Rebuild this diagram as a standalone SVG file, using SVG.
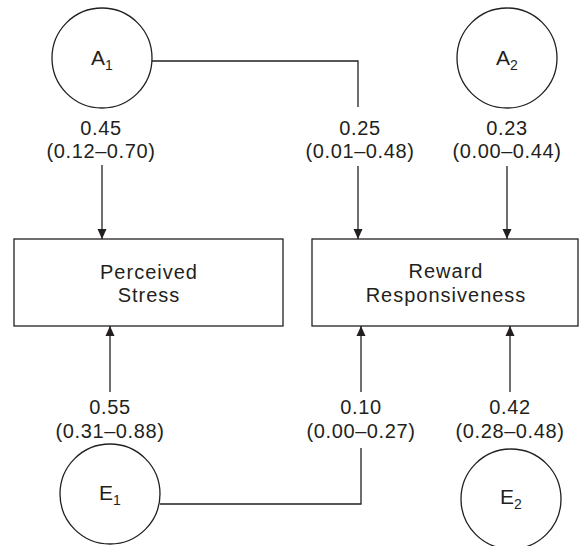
<svg xmlns="http://www.w3.org/2000/svg" width="581" height="546" viewBox="0 0 581 546">
<style>
  .shape{fill:#fff;stroke:#231f20;stroke-width:1.3}
  .line{fill:none;stroke:#231f20;stroke-width:1.3}
  .arrow{fill:none;stroke:#231f20;stroke-width:1.3;marker-end:url(#ah)}
  text{font-family:"Liberation Sans",Arial,sans-serif;fill:#231f20;text-anchor:middle}
  .lbl{font-size:20px;letter-spacing:0.6px}
  .node{font-size:20px;letter-spacing:1px}
  .var{font-size:21px}
  .sub{font-size:14px}
</style>
<defs>
  <marker id="ah" markerWidth="10" markerHeight="10" viewBox="0 0 10 10" refX="10" refY="5" orient="auto" markerUnits="userSpaceOnUse">
    <path d="M0,0.5 L10,5 L0,9.5 Z" fill="#231f20"/>
  </marker>
</defs>
<rect width="581" height="546" fill="#fff"/>
<g id="connectors">
  <path class="line" d="M152,61 H358 V107"/>
  <path class="arrow" d="M102,165 V239"/>
  <path class="arrow" d="M358,166 V239"/>
  <path class="arrow" d="M507,166 V239"/>
  <path class="arrow" d="M110,392 V326"/>
  <path class="arrow" d="M361,392 V326"/>
  <path class="arrow" d="M510,392 V326"/>
  <path class="line" d="M160,504 H361 V448"/>
  <text class="lbl" x="101" y="135">0.45</text>
  <text class="lbl" x="101" y="158">(0.12–0.70)</text>
  <text class="lbl" x="360" y="135">0.25</text>
  <text class="lbl" x="360" y="158">(0.01–0.48)</text>
  <text class="lbl" x="507" y="135">0.23</text>
  <text class="lbl" x="507" y="158">(0.00–0.44)</text>
  <text class="lbl" x="110" y="414">0.55</text>
  <text class="lbl" x="110" y="438">(0.31–0.88)</text>
  <text class="lbl" x="361" y="414">0.10</text>
  <text class="lbl" x="361" y="438">(0.00–0.27)</text>
  <text class="lbl" x="510" y="414">0.42</text>
  <text class="lbl" x="510" y="438">(0.28–0.48)</text>
</g>
<g id="A1">
  <circle class="shape" cx="102" cy="58" r="50"/>
  <text class="var" x="102" y="65">A<tspan class="sub" dy="5">1</tspan></text>
</g>
<g id="A2">
  <circle class="shape" cx="507" cy="58" r="50"/>
  <text class="var" x="507" y="65">A<tspan class="sub" dy="5">2</tspan></text>
</g>
<g id="PerceivedStress">
  <rect class="shape" x="14" y="239" width="269" height="87"/>
  <text class="node" x="149" y="279">Perceived</text>
  <text class="node" x="149" y="302">Stress</text>
</g>
<g id="RewardResponsiveness">
  <rect class="shape" x="312" y="239" width="266" height="87"/>
  <text class="node" x="446" y="278">Reward</text>
  <text class="node" x="446" y="302">Responsiveness</text>
</g>
<g id="E1">
  <circle class="shape" cx="110" cy="494" r="50"/>
  <text class="var" x="110" y="500">E<tspan class="sub" dy="5">1</tspan></text>
</g>
<g id="E2">
  <circle class="shape" cx="511" cy="499" r="50"/>
  <text class="var" x="511" y="504">E<tspan class="sub" dy="5">2</tspan></text>
</g>
</svg>
